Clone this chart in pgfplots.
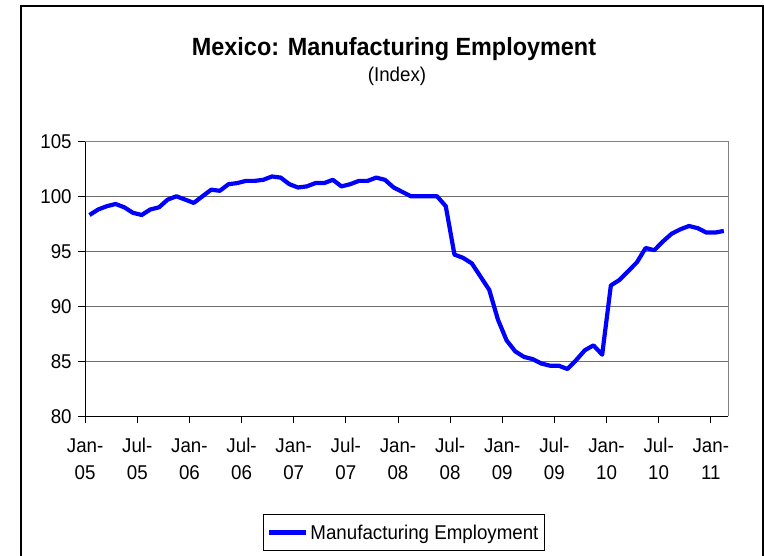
\documentclass[border=0pt]{standalone}
\usepackage{pgfplots}
\pgfplotsset{compat=1.18}
\usepackage{fontspec}
\setmainfont[FakeStretch=0.94]{Liberation Sans}
\definecolor{gridgray}{RGB}{110,110,110}
\begin{document}
\begin{tikzpicture}[x=1bp,y=1bp]
\useasboundingbox (0,0) rectangle (764,556);
\draw[black,line width=1.2bp] (21,-20) -- (21,550) -- (763,550) -- (763,-20);
\node[anchor=base,font=\fontsize{25}{30}\selectfont\bfseries] at (394,500) {Mexico: Manufacturing Employment};
\node[anchor=base,font=\fontsize{20}{24}\selectfont] at (397,474) {(Index)};
\begin{axis}[
  at={(98,127)}, anchor=south west,
  scale only axis, width=643bp, height=275bp,
  xmin=-0.5, xmax=73.5, ymin=80, ymax=105,
  axis x line=bottom, axis y line=left,
  axis line style={black,line width=0.9bp,-},
  tick align=outside,
  major tick length=7bp,
  tick style={black,line width=0.8bp},
  xtick={-0.5,5.5,...,71.5},
  xticklabels={\strut Jan-\\05,\strut Jul-\\05,\strut Jan-\\06,\strut Jul-\\06,\strut Jan-\\07,\strut Jul-\\07,\strut Jan-\\08,\strut Jul-\\08,\strut Jan-\\09,\strut Jul-\\09,\strut Jan-\\10,\strut Jul-\\10,\strut Jan-\\11},
  xticklabel style={align=center,font=\fontsize{20}{28}\selectfont,yshift=-5.7bp},
  ytick={80,85,...,105},
  yticklabel style={font=\fontsize{20}{24}\selectfont,xshift=-3bp},
  /pgf/number format/assume math mode=true,
  ymajorgrids, grid style={gridgray,line width=0.9bp},
  clip=false,
  legend style={at={(0.2764,-0.356)},anchor=north west,draw=black,line width=0.8bp,
    font=\fontsize{20}{24}\selectfont,inner xsep=4bp,inner ysep=8bp},
  legend cell align=left,
  legend image code/.code={\draw[#1] (0bp,0bp) -- (37bp,0bp);},
]
\draw[gray,line width=1.2bp] (rel axis cs:0,1) -- (rel axis cs:1,1) -- (rel axis cs:1,0);
\addplot[blue,line width=4.2bp,line join=round] coordinates {
(0,98.3) (1,98.8) (2,99.1) (3,99.3) (4,99.0) (5,98.5) (6,98.3) (7,98.8) (8,99.0) (9,99.7)
(10,100.0) (11,99.7) (12,99.4) (13,100.0) (14,100.6) (15,100.5) (16,101.1) (17,101.2) (18,101.4) (19,101.4)
(20,101.5) (21,101.8) (22,101.7) (23,101.1) (24,100.8) (25,100.9) (26,101.2) (27,101.2) (28,101.5) (29,100.9)
(30,101.1) (31,101.4) (32,101.4) (33,101.7) (34,101.5) (35,100.8) (36,100.4) (37,100.0) (38,100.0) (39,100.0)
(40,100.0) (41,99.1) (42,94.7) (43,94.4) (44,93.9) (45,92.7) (46,91.5) (47,88.8) (48,86.9) (49,85.9)
(50,85.4) (51,85.2) (52,84.8) (53,84.6) (54,84.6) (55,84.3) (56,85.1) (57,86.0) (58,86.45) (59,85.6)
(60,91.9) (61,92.4) (62,93.2) (63,94.0) (64,95.3) (65,95.1) (66,95.9) (67,96.6) (68,97.0) (69,97.3)
(70,97.1) (71,96.7) (72,96.7) (73,96.85)
};
\addlegendentry{Manufacturing Employment}
\end{axis}
\end{tikzpicture}
\end{document}
